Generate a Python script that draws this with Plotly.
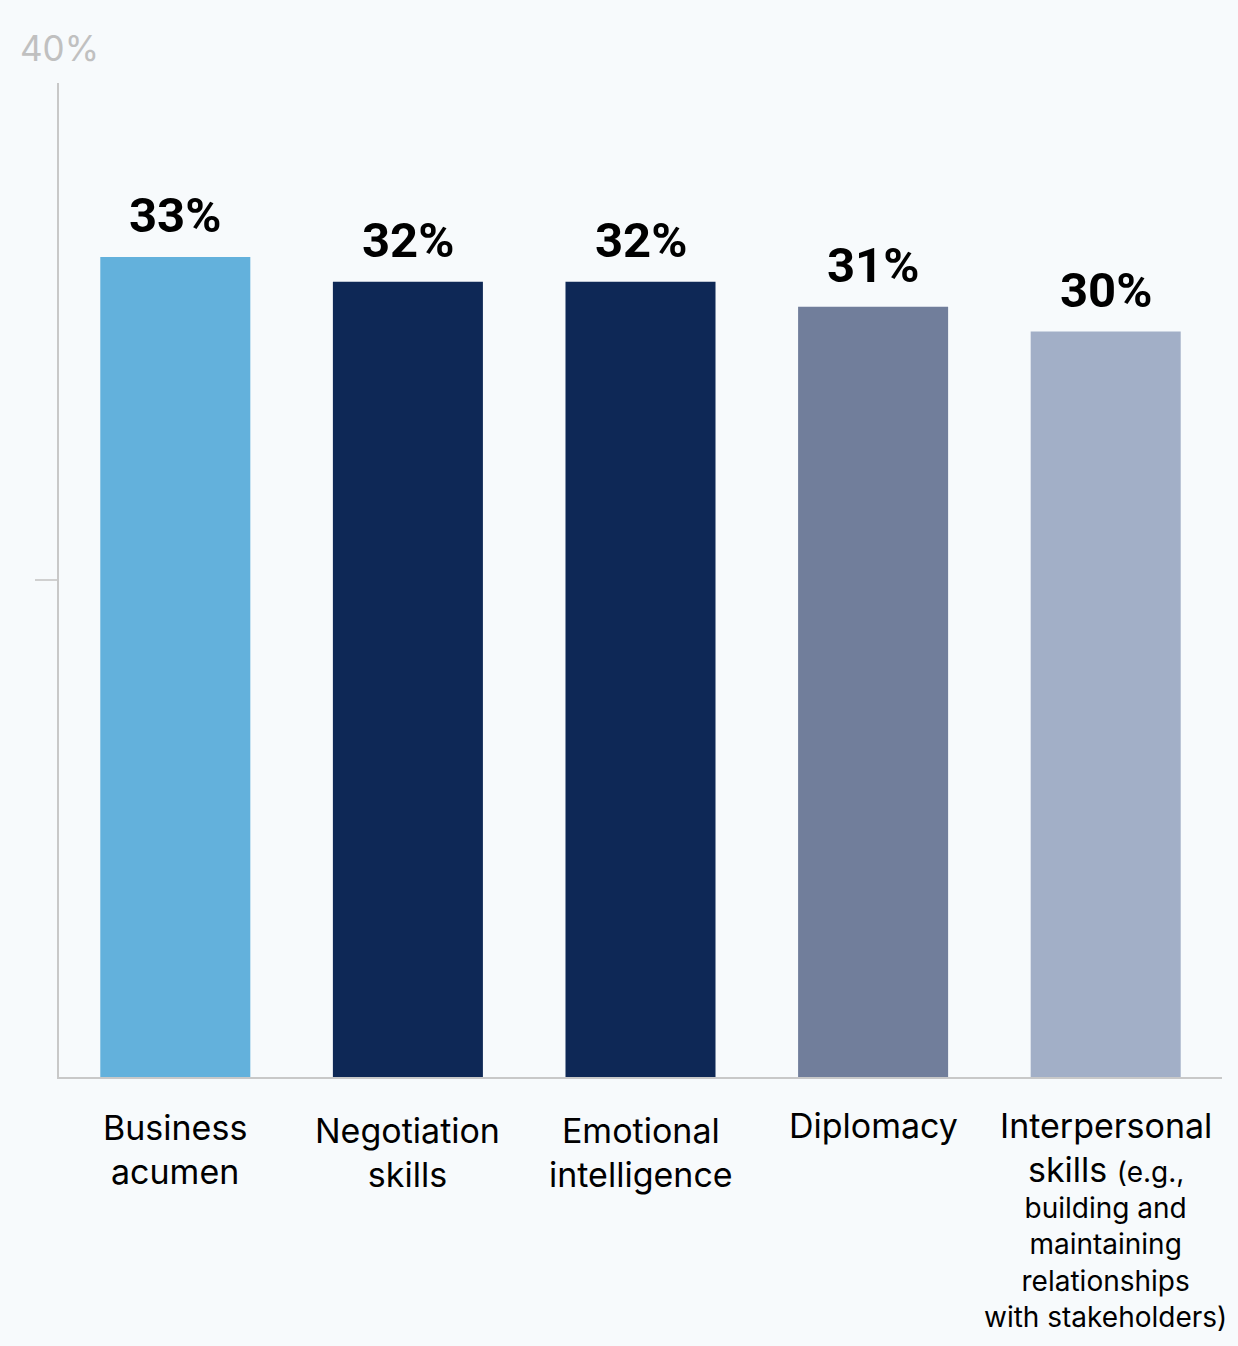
import plotly.graph_objects as go

categories = ["Business acumen", "Negotiation skills", "Emotional intelligence", "Diplomacy", "Interpersonal skills"]
values = [33, 32, 32, 31, 30]
value_labels = ["33%", "32%", "32%", "31%", "30%"]
x_labels = [
    "Business<br>acumen",
    "Negotiation<br>skills",
    "Emotional<br>intelligence",
    "Diplomacy",
    "Interpersonal<br>skills <span style='font-size:28px'>(e.g.,</span>",
]
x_label_extra = ["", "", "", "", "building and<br>maintaining<br>relationships<br>with stakeholders)"]
bar_colors = ["#63b1dc", "#0e2856", "#0e2856", "#717e9b", "#a2afc7"]
y_max = 40
y_ticks = [20]
top_label = "40%"

FONT = "Inter"
BG = "#f7fafc"

fig = go.Figure()
fig.add_trace(go.Bar(
    x=categories, y=values,
    marker=dict(color=bar_colors, line=dict(width=0)),
    width=0.645,
    hoverinfo="skip",
))

for cat, val, lab in zip(categories, values, value_labels):
    fig.add_annotation(x=cat, y=val, xref="x", yref="y", text=lab, showarrow=False,
                       yanchor="bottom", yshift=11,
                       font=dict(family="Roboto", size=49, color="#000000", weight="bold"))

label_offsets = [28, 31, 31, 26, 26]
for i, (cat, lab) in enumerate(zip(categories, x_labels)):
    fig.add_annotation(x=cat, y=0, xref="x", yref="paper", text=lab, showarrow=False,
                       yanchor="top", yshift=-label_offsets[i],
                       font=dict(family=FONT, size=34, color="#000000"))
    if x_label_extra[i]:
        fig.add_annotation(x=cat, y=0, xref="x", yref="paper", text=x_label_extra[i], showarrow=False,
                           yanchor="top", yshift=-label_offsets[i] - 86,
                           font=dict(family=FONT, size=28, color="#000000"))

fig.add_annotation(x=0, y=y_max, xref="paper", yref="y", text=top_label, showarrow=False,
                   yanchor="bottom", yshift=12, xanchor="center",
                   font=dict(family=FONT, size=35, color="#c0c0c0"))

fig.update_layout(
    width=1238, height=1346,
    margin=dict(l=59, r=16, t=83, b=269),
    paper_bgcolor=BG, plot_bgcolor=BG,
    showlegend=False,
    font=dict(family=FONT),
    xaxis=dict(range=[-0.5, 4.5], showticklabels=False, showline=True, linecolor="#c8c8c8",
               linewidth=2, ticks="", showgrid=False, zeroline=False),
    yaxis=dict(range=[0, y_max], tickvals=y_ticks, showticklabels=False, ticks="outside",
               ticklen=22, tickcolor="#d0d0d0", tickwidth=2, showline=True, linecolor="#c8c8c8",
               linewidth=2, showgrid=False, zeroline=False),
)

fig.write_html(
    "out.html",
    config={"displayModeBar": False, "staticPlot": True},
    post_script="document.body.style.margin='0';document.body.style.background='#f7fafc';document.body.style.overflow='hidden';",
)
